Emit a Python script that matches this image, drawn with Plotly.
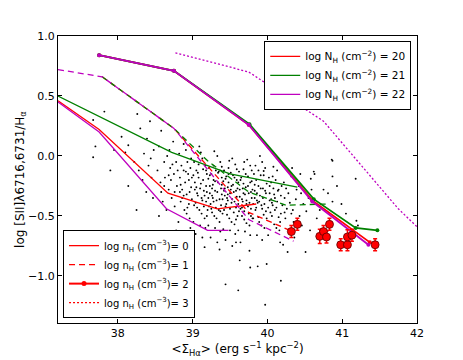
import plotly.graph_objects as go

RED = "#ff0000"
GREEN = "#008000"
MAG = "#bf00bf"

# model tracks, log nH = 0 (solid)
n0_red_x = [37.2, 37.75, 38.67, 39.33, 39.85]
n0_red_y = [0.46, 0.22, -0.31, -0.44, -0.40]
n0_green_x = [37.2, 37.75, 38.72, 39.5, 40.4]
n0_green_y = [0.50, 0.33, 0.03, -0.15, -0.26]
n0_mag_x = [37.2, 37.75, 38.65, 39.2, 39.48]
n0_mag_y = [0.45, 0.20, -0.44, -0.62, -0.62]

# log nH = 1 (dashed)
n1_red_x = [37.79, 38.75, 39.75, 40.3]
n1_red_y = [0.66, 0.23, -0.47, -0.62]
n1_green_x = [37.79, 38.75, 39.2, 39.75, 40.25, 40.8]
n1_green_y = [0.66, 0.23, -0.04, -0.30, -0.41, -0.40]
n1_mag_x = [37.2, 37.79, 38.75, 39.75, 40.35]
n1_mag_y = [0.72, 0.66, 0.23, -0.53, -0.71]

# log nH = 2 (thick, markers)
n2_red_x = [37.75, 38.75, 39.75, 40.6, 41.37]
n2_red_y = [0.84, 0.71, 0.26, -0.37, -0.72]
n2_green_x = [37.75, 38.75, 39.76, 40.62, 41.18, 41.47]
n2_green_y = [0.84, 0.71, 0.265, -0.36, -0.60, -0.62]
n2_mag_x = [37.75, 38.75, 39.75, 40.6, 41.35]
n2_mag_y = [0.84, 0.71, 0.26, -0.38, -0.74]

# log nH = 3 (dotted)
n3_mag_x = [38.77, 39.75, 40.75, 41.75, 42.0]
n3_mag_y = [0.86, 0.70, 0.29, -0.44, -0.59]

# observed galaxies with error bars
obs_sigma = [40.32, 40.40, 40.70, 40.75, 40.79, 40.83, 40.98, 41.07, 41.07, 41.13, 41.44]
obs_ratio = [-0.63, -0.57, -0.67, -0.63, -0.675, -0.57, -0.74, -0.74, -0.675, -0.66, -0.74]
obs_err = [0.05, 0.05, 0.06, 0.05, 0.05, 0.05, 0.05, 0.05, 0.06, 0.05, 0.05]

# DIG/HII pixel cloud
cloud = [
    (37.67, 0.30), (37.82, 0.37), (37.70, 0.08), (37.67, -0.01), (37.95, 0.05), (38.05, 0.16),
    (38.14, 0.09), (38.10, 0.03), (38.14, -0.25), (37.90, -0.12),
    (38.26, 0.35), (38.30, 0.23), (38.43, 0.29), (38.39, 0.145), (38.22, -0.05), (38.28, -0.12),
    (38.35, 0.02), (38.41, -0.08), (38.45, -0.18), (38.33, -0.20), (38.48, 0.05), (38.38, -0.30),
    (38.47, -0.35), (38.25, -0.45), (38.44, -0.02),
    (38.58, 0.21), (38.52, -0.69), (38.55, 0.08), (38.62, -0.05), (38.66, 0.0), (38.70, -0.10),
    (38.53, -0.12), (38.57, -0.22), (38.63, -0.18), (38.68, -0.28), (38.72, -0.35), (38.60, -0.38),
    (38.75, -0.15), (38.78, -0.05), (38.76, -0.42), (38.78, -0.62), (38.55, -0.5), (38.65, -0.45),
    (38.74, 0.12), (38.69, 0.05), (38.79, -0.25), (38.71, -0.20), (38.58, -0.30),
    (38.82, 0.02), (38.85, -0.08), (38.88, -0.12), (38.83, -0.18), (38.90, -0.22), (38.86, -0.28),
    (38.92, -0.32), (38.84, -0.38), (38.95, -0.40), (38.97, -0.10), (38.93, -0.05), (38.98, -0.26),
    (38.89, -0.45), (38.96, -0.52), (38.87, -0.69), (38.81, -0.55), (38.99, -0.18), (38.91, 0.05),
    (38.94, -0.15), (38.86, -0.35), (38.97, -0.60), (38.83, -0.30), (38.92, -0.48), (38.98, -0.02),
    (38.88, 0.10),
    (39.02, -0.05), (39.05, -0.12), (39.08, -0.18), (39.03, -0.22), (39.10, -0.27), (39.06, -0.31),
    (39.12, -0.35), (39.04, -0.39), (39.15, -0.42), (39.17, -0.08), (39.13, -0.02), (39.18, -0.25),
    (39.09, -0.45), (39.16, -0.52), (39.16, -0.76), (39.01, -0.55), (39.19, -0.15), (39.11, 0.03),
    (39.14, -0.20), (39.07, -0.33), (39.17, -0.60), (39.03, -0.28), (39.12, -0.48), (39.18, -0.38),
    (39.08, -0.07), (39.01, -0.16), (39.19, -0.30), (39.06, -0.43), (39.14, -0.11), (39.10, -0.58),
    (39.04, -0.65), (39.20, -0.45), (39.13, -0.68), (39.09, 0.08), (39.16, -0.33),
    (39.22, -0.10), (39.25, -0.15), (39.28, -0.20), (39.23, -0.25), (39.30, -0.29), (39.26, -0.33),
    (39.32, -0.37), (39.24, -0.40), (39.35, -0.45), (39.37, -0.05), (39.33, 0.0), (39.38, -0.27),
    (39.29, -0.50), (39.36, -0.55), (39.36, -0.78), (39.21, -0.58), (39.39, -0.18), (39.31, -0.12),
    (39.34, -0.22), (39.27, -0.35), (39.37, -0.63), (39.23, -0.31), (39.32, -0.52), (39.38, -0.41),
    (39.28, -0.08), (39.21, -0.19), (39.39, -0.32), (39.26, -0.47), (39.34, -0.14), (39.30, -0.60),
    (39.24, -0.68), (39.40, -0.48), (39.33, -0.72), (39.29, 0.04), (39.36, -0.36), (39.22, -0.42),
    (39.27, -0.24), (39.39, -0.09),
    (39.42, -0.12), (39.45, -0.17), (39.48, -0.22), (39.43, -0.27), (39.50, -0.31), (39.46, -0.35),
    (39.52, -0.39), (39.44, -0.42), (39.55, -0.47), (39.57, -0.07), (39.53, -0.02), (39.58, -0.29),
    (39.49, -0.52), (39.56, -0.57), (39.44, -1.07), (39.41, -0.61), (39.59, -0.20), (39.51, -0.14),
    (39.54, -0.24), (39.47, -0.37), (39.57, -0.65), (39.43, -0.33), (39.52, -0.55), (39.58, -0.43),
    (39.48, -0.10), (39.41, -0.21), (39.59, -0.34), (39.46, -0.49), (39.54, -0.16), (39.50, -0.62),
    (39.44, -0.70), (39.60, -0.50), (39.53, -0.75), (39.58, -0.72), (39.49, -0.04), (39.56, -0.38),
    (39.42, -0.45), (39.47, -0.26), (39.59, -0.11), (39.51, -0.28),
    (39.62, -0.13), (39.65, -0.18), (39.68, -0.23), (39.63, -0.28), (39.70, -0.32), (39.66, -0.36),
    (39.72, -0.40), (39.64, -0.44), (39.75, -0.48), (39.77, -0.08), (39.73, -0.03), (39.78, -0.30),
    (39.69, -0.53), (39.76, -0.58), (39.61, -1.12), (39.61, -0.62), (39.79, -0.21), (39.71, -0.15),
    (39.74, -0.25), (39.67, -0.38), (39.77, -0.66), (39.63, -0.87), (39.72, -0.56), (39.78, -0.44),
    (39.68, -0.11), (39.61, -0.22), (39.79, -0.35), (39.66, -0.50), (39.74, -0.17), (39.70, -0.63),
    (39.64, -0.72), (39.80, -0.52), (39.76, -0.79), (39.69, -0.05), (39.76, -0.39), (39.62, -0.46),
    (39.67, -0.27), (39.79, -0.12),
    (39.82, -0.15), (39.85, -0.20), (39.88, -0.25), (39.83, -0.29), (39.90, -0.33), (39.86, -0.37),
    (39.92, -0.41), (39.84, -0.45), (39.95, -0.49), (39.97, -0.10), (39.93, -0.05), (39.98, -0.31),
    (39.89, -0.55), (39.96, -0.60), (39.97, -1.24), (39.87, -0.92), (39.99, -0.23), (39.91, -0.16),
    (39.94, -0.27), (39.87, -0.39), (39.99, -0.90), (39.83, -0.35), (39.92, -0.58), (39.98, -0.46),
    (39.88, -0.12), (39.90, 0.00), (39.95, -0.125), (39.95, -0.16), (39.77, -0.93), (39.86, -0.66),
    (39.81, -0.52), (39.93, -0.70), (39.84, -0.08),
    (40.02, -0.18), (40.05, -0.22), (40.08, -0.27), (40.03, -0.31), (40.10, -0.35), (40.06, -0.39),
    (40.12, -0.43), (40.04, -0.47), (40.15, -0.51), (40.07, -0.17), (40.13, -0.12), (40.18, -0.33),
    (40.09, -0.57), (40.16, -0.62), (40.18, -1.04), (40.01, -0.66), (40.19, -0.25), (40.11, -0.20),
    (40.14, -0.29), (40.07, -0.41), (40.17, -0.72), (40.03, -0.37), (40.12, -0.60), (40.18, -0.48),
    (40.08, -0.09),
    (40.22, -0.22), (40.25, -0.27), (40.28, -0.31), (40.23, -0.35), (40.30, -0.39), (40.26, -0.44),
    (40.32, -0.48), (40.24, -0.52), (40.35, -0.55), (40.32, -0.17), (40.33, -0.10), (40.38, -0.36),
    (40.29, -0.62), (40.36, -0.68), (40.21, -0.74), (40.39, -0.28), (40.27, -0.80), (40.34, -0.45),
    (40.42, -0.25), (40.45, -0.31), (40.48, -0.40), (40.43, -0.50), (40.51, -0.80), (40.46, -0.58),
    (40.55, -0.35), (40.58, -0.19), (40.52, -0.46), (40.57, -0.62), (40.44, -0.15), (40.59, -0.28),
    (40.62, -0.13), (40.63, -0.15), (40.87, -0.04), (40.87, -0.17), (40.81, -0.31), (41.18, -0.19),
    (40.87, -0.38), (40.99, -0.40), (41.19, -0.54), (41.21, -0.58), (40.70, -0.45), (40.75, -0.28),
    (40.66, -0.52), (41.05, -0.48), (40.93, -0.25), (40.86, -0.03),
    (38.95, -0.20), (38.99, -0.36), (39.02, -0.41), (39.05, -0.26), (39.07, -0.14), (39.11, -0.23),
    (39.13, -0.37), (39.15, -0.29), (39.18, -0.12), (39.19, -0.50), (39.21, -0.35), (39.23, -0.16),
    (39.25, -0.44), (39.26, -0.27), (39.28, -0.38), (39.30, -0.21), (39.31, -0.43), (39.33, -0.30),
    (39.35, -0.13), (39.37, -0.46), (39.39, -0.24), (39.40, -0.36), (39.42, -0.29), (39.44, -0.19),
    (39.45, -0.40), (39.47, -0.32), (39.48, -0.15), (39.50, -0.44), (39.52, -0.25), (39.53, -0.36),
    (39.55, -0.30), (39.56, -0.18), (39.58, -0.53), (39.60, -0.27), (39.61, -0.40), (39.63, -0.34),
    (39.64, -0.20), (39.66, -0.43), (39.68, -0.31), (39.69, -0.46), (39.71, -0.26), (39.72, -0.37),
    (39.74, -0.42), (39.75, -0.31), (39.77, -0.22), (39.78, -0.50), (39.80, -0.28), (39.81, -0.40),
    (39.83, -0.24), (39.85, -0.43), (39.86, -0.31), (39.88, -0.51), (39.89, -0.38), (39.91, -0.27),
    (39.93, -0.44), (39.94, -0.35), (39.96, -0.40), (39.97, -0.29), (39.99, -0.52), (40.01, -0.43),
    (40.03, -0.25), (40.05, -0.36), (40.06, -0.50), (40.09, -0.32), (40.10, -0.45), (40.13, -0.38),
    (40.15, -0.28), (40.17, -0.55), (40.20, -0.41), (40.23, -0.47), (38.88, -0.33), (38.91, -0.13),
    (38.93, -0.43), (38.96, -0.30), (38.84, -0.24), (38.80, -0.12), (38.76, -0.30), (38.73, -0.07),
    (38.68, -0.16), (38.62, -0.25),
]
cloud_x = [p[0] for p in cloud]
cloud_y = [p[1] for p in cloud]

N_labels = ["log N<sub>H</sub> (cm<sup>−2</sup>) = 20",
            "log N<sub>H</sub> (cm<sup>−2</sup>) = 21",
            "log N<sub>H</sub> (cm<sup>−2</sup>) = 22"]
n_labels = ["log n<sub>H</sub> (cm<sup>−3</sup>)= 0",
            "log n<sub>H</sub> (cm<sup>−3</sup>)= 1",
            "log n<sub>H</sub> (cm<sup>−3</sup>)= 2",
            "log n<sub>H</sub> (cm<sup>−3</sup>)= 3"]

fig = go.Figure()

fig.add_trace(go.Scatter(x=cloud_x, y=cloud_y, mode="markers",
                         marker=dict(color="black", size=1.9), showlegend=False))

DASH = "6px,4px"
DOT = "2px,2px"

def track(x, y, color, dash="solid", width=1.3, markers=False):
    fig.add_trace(go.Scatter(
        x=x, y=y, mode="lines+markers" if markers else "lines",
        line=dict(color=color, width=width, dash=dash),
        marker=dict(color=color, size=4),
        showlegend=False))

track(n0_red_x, n0_red_y, RED)
track(n0_green_x, n0_green_y, GREEN)
track(n0_mag_x, n0_mag_y, MAG)

track(n1_red_x, n1_red_y, RED, DASH)
track(n1_green_x, n1_green_y, GREEN, DASH)
track(n1_mag_x, n1_mag_y, MAG, DASH)

track(n2_red_x, n2_red_y, RED, width=1.8, markers=True)
track(n2_green_x, n2_green_y, GREEN, width=1.8, markers=True)
track(n2_mag_x, n2_mag_y, MAG, width=1.8, markers=True)

track(n3_mag_x, n3_mag_y, MAG, DOT)

fig.add_trace(go.Scatter(
    x=obs_sigma, y=obs_ratio, mode="markers",
    marker=dict(color=RED, size=8, line=dict(color="#5a0000", width=0.8)),
    error_y=dict(type="data", array=obs_err, color=RED, thickness=1.5, width=2),
    showlegend=False))

# legend entries
for name, c in zip(N_labels, [RED, GREEN, MAG]):
    fig.add_trace(go.Scatter(x=[None], y=[None], mode="lines", name=name,
                             line=dict(color=c, width=1.3), legend="legend"))

styles = [("lines", "solid", 1.3), ("lines", DASH, 1.3), ("lines+markers", "solid", 2), ("lines", DOT, 1.3)]
for name, (mode, dash, w) in zip(n_labels, styles):
    fig.add_trace(go.Scatter(x=[None], y=[None], mode=mode, name=name,
                             line=dict(color=RED, width=w, dash=dash),
                             marker=dict(color=RED, size=5), legend="legend2"))

axis_common = dict(showline=True, linecolor="black", linewidth=1, mirror="ticks",
                   ticks="inside", ticklen=4, tickcolor="black", showgrid=False,
                   zeroline=False, automargin=False, tickfont=dict(size=11, color="black"))

fig.update_layout(
    width=463, height=360,
    margin=dict(l=58, r=46, t=36, b=37),
    paper_bgcolor="white", plot_bgcolor="white",
    font=dict(family="DejaVu Sans", color="black", size=11),
    xaxis=dict(range=[37.2, 42], tickvals=[38, 39, 40, 41, 42],
               title=dict(text="&lt;Σ<sub>Hα</sub>&gt; (erg s<sup>−1</sup> kpc<sup>−2</sup>)",
                          font=dict(size=12), standoff=2),
               **axis_common),
    yaxis=dict(range=[-1.392, 1.0], tickvals=[-1.0, -0.5, 0.0, 0.5, 1.0], tickformat=".1f",
               title=dict(text="log [SII]λ6716,6731/H<sub>α</sub>", font=dict(size=12), standoff=0),
               **axis_common),
    legend=dict(x=0.984, y=0.983, xanchor="right", yanchor="top",
                bgcolor="white", bordercolor="black", borderwidth=1,
                font=dict(size=10.5), tracegroupgap=0),
    legend2=dict(x=0.014, y=0.017, xanchor="left", yanchor="bottom",
                 bgcolor="white", bordercolor="black", borderwidth=1,
                 font=dict(size=10), tracegroupgap=0),
)

fig.write_html("out.html", config={"displayModeBar": False},
               post_script="document.body.style.margin='0';")
